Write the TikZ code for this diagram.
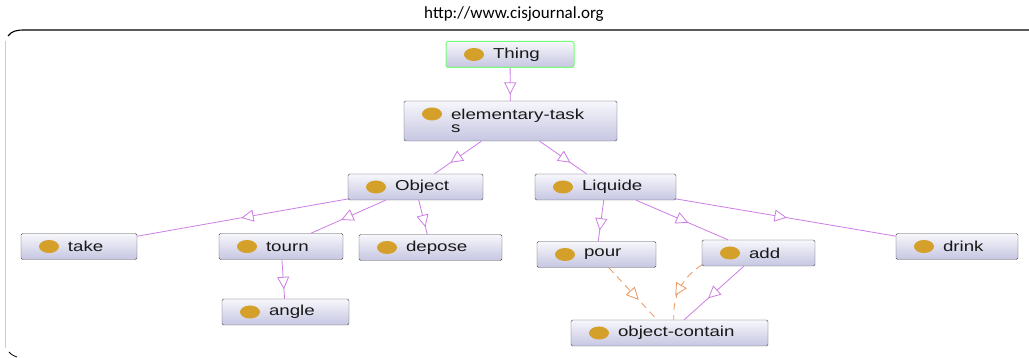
\documentclass[tikz,border=0pt]{standalone}
\usepackage{fontspec}
\setmainfont[FakeStretch=1.3]{Liberation Sans}
\newfontfamily\headfont{Carlito}
\usetikzlibrary{decorations.markings}

\definecolor{subcol}{RGB}{205,125,228}
\definecolor{relcol}{RGB}{234,150,92}
\definecolor{ballcol}{RGB}{212,160,42}
\definecolor{boxtop}{RGB}{247,247,252}
\definecolor{boxbot}{RGB}{198,198,226}

\begin{document}
\begin{tikzpicture}[x=1pt,y=-1pt,
    cls/.style={draw=black!70, rounded corners=1.5pt, top color=boxtop, bottom color=boxbot,
        minimum height=26pt, minimum width=#1, text width=#1, inner xsep=0pt, inner ysep=3pt,
        align=left, text=black!90, font=\fontsize{14.4}{13}\selectfont,
        execute at begin node={\leftskip=47pt},
        path picture={\fill[ballcol] ([shift={(28pt,-13pt)}]path picture bounding box.north west) ellipse (10pt and 6.5pt);}},
    midtip/.style={postaction={decorate}, decoration={markings,
        mark=at position 0.45 with {\draw[solid, fill=white, line width=0.8pt] (0,5.5pt) -- (11pt,0) -- (0,-5.5pt) -- cycle;}}},
    subclass/.style={color=subcol, line width=0.8pt, midtip},
    relation/.style={color=relcol, line width=0.8pt, dash pattern=on 7pt off 5pt, midtip}]

    % page
    \useasboundingbox (0,0) rectangle (1029,358);
    \node[font=\headfont\fontsize{17}{20}\selectfont] (url) at (514,14) {http://www.cisjournal.org};
    \draw[line width=1.1pt] (8,36) .. controls (12,31) and (16,30) .. (25,30) -- (1029,30);
    \draw[black!20] (5,41) -- (5,348);
    \draw[line width=0.8pt] (9,352) .. controls (12,355) .. (17,357);

    % classes
    \node[cls=128pt, draw=green!55!white, line width=1pt] (thing) at (510,54.5) {Thing};
    \node[cls=213pt, minimum height=40pt] (tasks) at (510.5,121) {elementary-task\\s};
    \node[cls=135pt] (object) at (415.5,187) {Object};
    \node[cls=141pt] (liquide) at (605.5,187) {Liquide};
    \node[cls=116pt] (take) at (79,246.5) {take};
    \node[cls=124pt] (tourn) at (281,246.5) {tourn};
    \node[cls=143pt] (depose) at (430.5,247.5) {depose};
    \node[cls=127pt] (angle) at (285.5,312) {angle};
    \node[cls=119pt] (pour) at (596.5,254.5) {pour};
    \node[cls=113pt] (add) at (758.5,253) {add};
    \node[cls=122pt] (drink) at (957,246.5) {drink};
    \node[cls=197pt] (contain) at (669.5,333) {object-contain};

    % subclass links
    \draw[subclass] (thing) -- (tasks);
    \draw[subclass] (tasks) -- (object);
    \draw[subclass] (tasks) -- (liquide);
    \draw[subclass] (object) -- (take);
    \draw[subclass] (object) -- (tourn);
    \draw[subclass] (object) -- (depose);
    \draw[subclass] (tourn) -- (angle);
    \draw[subclass] (liquide) -- (pour);
    \draw[subclass] (liquide) -- (add);
    \draw[subclass] (liquide) -- (drink);
    \draw[subclass] (add) -- (contain);

    % properties
    \draw[relation] (pour) -- (contain);
    \draw[relation] (add) to[bend right=30] (contain);
\end{tikzpicture}
\end{document}
